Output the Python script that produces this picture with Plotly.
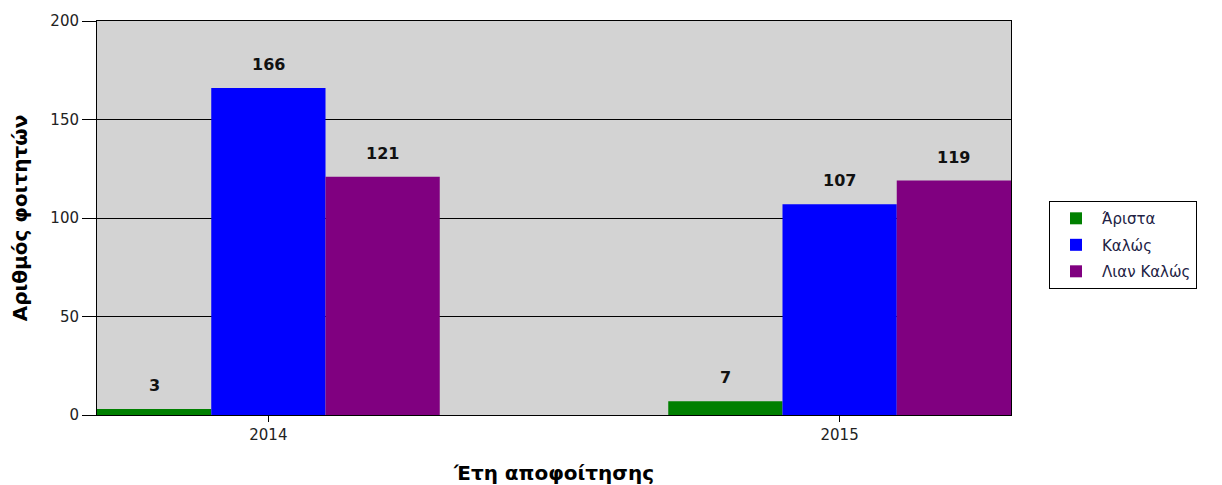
import plotly.graph_objects as go

years = ["2014", "2015"]
series_names = ["Άριστα", "Καλώς", "Λιαν Καλώς"]
arista = [3, 7]
kalos = [166, 107]
lian_kalos = [121, 119]
colors = ["#008000", "#0000ff", "#800080"]

series_values = [arista, kalos, lian_kalos]
xpos = list(range(len(years)))

fig = go.Figure()
for name, vals, col in zip(series_names, series_values, colors):
    fig.add_trace(go.Bar(x=xpos, y=vals, name=name, legendgroup=name,
                         marker=dict(color=col, line=dict(width=0))))

bar_w = 0.2
annotations = []
for j, vals in enumerate(series_values):
    for i, v in enumerate(vals):
        annotations.append(dict(
            x=i + (j - 1) * bar_w, y=v, xref="x", yref="y",
            text="<b>%d</b>" % v, showarrow=False, yanchor="bottom",
            yshift=12, font=dict(family="DejaVu Sans", size=16, color="#111111")))

fig.update_layout(
    width=1214, height=477,
    margin=dict(l=89, r=211, t=13, b=70, autoexpand=False),
    paper_bgcolor="white", plot_bgcolor="#d3d3d3",
    barmode="group", bargap=0.4, bargroupgap=0,
    font=dict(family="DejaVu Sans", size=15, color="#222222"),
    annotations=annotations,
    legend=dict(x=1.0416, y=0.543, xanchor="left", yanchor="top",
                bordercolor="#000000", borderwidth=1, bgcolor="white",
                font=dict(size=15, color="#222244"), tracegroupgap=4,
                traceorder="grouped", itemwidth=42),
    xaxis=dict(range=[-0.3, 1.3], tickvals=xpos, ticktext=years, automargin=False,
               showgrid=False, zeroline=False, showline=True, linecolor="#000000",
               linewidth=1, mirror=True, ticks="outside", ticklen=6, tickcolor="#000000",
               title=dict(text="<b>Έτη αποφοίτησης</b>", font=dict(size=20, color="#000000"), standoff=22)),
    yaxis=dict(range=[0, 200], tickvals=[0, 50, 100, 150, 200], automargin=False,
               showgrid=True, gridcolor="#000000", gridwidth=1, zeroline=False,
               showline=True, linecolor="#000000", linewidth=1, mirror=True,
               ticks="outside", ticklen=14, tickcolor="#000000",
               title=dict(text="<b>Αριθμός φοιτητών</b>", font=dict(size=20, color="#000000"), standoff=20)),
)

fig.write_html("out.html")
